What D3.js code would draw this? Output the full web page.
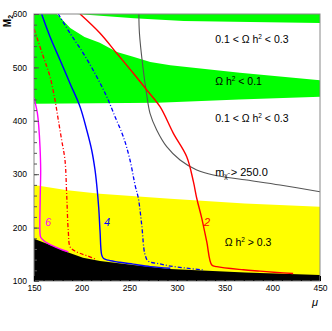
<!DOCTYPE html>
<html>
<head>
<meta charset="utf-8">
<script src="https://cdn.jsdelivr.net/npm/d3@7"></script>
<style>
  body { margin: 0; background: #fff; }
  svg { display: block; font-family: "Liberation Sans", Arial, sans-serif; }
</style>
</head>
<body>
<div id="chart"></div>
<script>
// constants
const margin = {top: 14, right: 12, bottom: 50, left: 34}
const width = 332 - margin.left - margin.right
const height = 331 - margin.top - margin.bottom

const mu_min = 150
const mu_max = 450
const m2_min = 100
const m2_max = 600

// axis ticks
const mu_ticks = [150, 200, 250, 300, 350, 400, 450]
const m2_ticks = [100, 200, 300, 400, 500, 600]

// region boundaries, [mu, M2]
const green_top_band_edge = [[195, 600], [255, 592], [307, 587], [377, 585], [450, 583]]
const green_band_top = [[174, 600], [188, 574], [203, 557], [219, 546], [237, 529], [254, 520],
                        [272, 510], [293, 504], [366, 490], [450, 476]]
const green_band_bottom = [[150, 432], [280, 434], [365, 440], [450, 445]]
const yellow_top = [[150, 280], [185, 270], [219, 263.5], [293, 254], [371, 245], [450, 239]]
const black_top = [[150, 179], [167, 167.5], [184.6, 154.3], [201.4, 143.6], [219.3, 137.5],
                   [254, 130], [292.7, 122.5], [371.4, 116], [450, 111.2]]

// contours
const curve_6 = [[150, 443], [153.5, 415], [155, 389], [156.3, 351], [157, 308], [156.5, 255],
                 [156.3, 190], [157, 182], [160, 176], [165, 170], [172, 164], [180, 158], [186, 154.5]]
const curve_red_dashdot = [[150, 572], [159.8, 520], [166.8, 482.6], [172, 439], [175.5, 401.5],
                           [179, 364], [182.5, 326.6], [184.3, 261], [186, 192], [187.8, 164],
                           [192, 157], [198, 152], [205.3, 147.5], [215.8, 140]]
const curve_4 = [[158, 600], [166.8, 557.5], [177.3, 514], [187.8, 470], [198.3, 426.4], [205.3, 382.8],
                 [210.5, 345.3], [214, 308], [215.8, 280], [217.9, 236.7], [219.3, 192.3], [221, 149],
                 [223, 142], [228, 139], [240, 135], [254, 131.5], [272, 127], [293, 124]]
const curve_blue_dashdot = [[175.5, 600], [187.8, 564], [201.7, 526.4], [215.8, 482.6], [226.3, 445.1],
                            [235, 407.7], [243.7, 370.2], [250.7, 326.6], [256, 279.8], [259.4, 255.4],
                            [263, 205], [266.5, 149], [270, 137], [282, 132], [293, 128], [310, 124], [328, 120.5]]
const curve_2 = [[198.3, 600], [219.3, 564], [236.8, 526.4], [254.2, 489], [268.3, 457.7], [282.2, 426.4],
                 [296.2, 376.6], [310.2, 332.8], [317.2, 286], [320.7, 255], [326, 217.4], [331.2, 173.6],
                 [336.5, 130], [341.7, 126.8], [369.6, 121], [387.1, 118.5], [404.7, 116], [421.8, 114]]
const curve_mass = [[260, 600], [260.6, 564], [264.2, 501.3], [268, 451.5], [271.7, 414], [278.7, 382.8],
                    [289.2, 351.5], [303.2, 326.6], [320.7, 307.9], [338.1, 298.5], [373.2, 289.1],
                    [408.1, 279.8], [450, 267.2]]

// annotations, [mu, M2]
const region_labels = [
    {mu: 340, m2: 553, text: ['0.1 <  Ω h', '2', ' < 0.3']},
    {mu: 340, m2: 474.5, text: ['Ω h', '2', ' < 0.1']},
    {mu: 340, m2: 405, text: ['0.1 <  Ω h', '2', ' < 0.3']},
    {mu: 350, m2: 173.6, text: ['Ω h', '2', ' > 0.3']}
]
const curve_labels = [
    {mu: 164.7, m2: 210.5, text: '6', color: '#ff00ff'},
    {mu: 226.6, m2: 210.5, text: '4', color: '#0000ff'},
    {mu: 331.5, m2: 210.5, text: '2', color: '#ff0000'}
]

const svg = d3.select('#chart')
    .append('svg')
        .attr('width', 332)
        .attr('height', 331)
    .append('g')
        .attr('transform', `translate(${margin.left}, ${margin.top})`)

const x = d3.scaleLinear().domain([mu_min, mu_max]).range([0, width])
const y = d3.scaleLinear().domain([m2_min, m2_max]).range([height, 0])

svg.append('clipPath')
    .attr('id', 'plot-clip')
    .append('rect')
        .attr('width', width)
        .attr('height', height)

const plot = svg.append('g').attr('clip-path', 'url(#plot-clip)')

const poly = d3.line().x(d => x(d[0])).y(d => y(d[1])).curve(d3.curveLinearClosed)
const smooth = d3.line().x(d => x(d[0])).y(d => y(d[1])).curve(d3.curveCatmullRom.alpha(0.5))

// green regions (Omega h^2 < 0.1)
plot.append('path')
    .attr('d', poly([[mu_max, m2_max], ...green_top_band_edge.slice().reverse()]))
    .attr('fill', '#00ff00')
plot.append('path')
    .attr('d', poly([[mu_min, m2_max], ...green_band_top, ...green_band_bottom.slice().reverse()]))
    .attr('fill', '#00ff00')

// yellow (Omega h^2 > 0.3)
plot.append('path')
    .attr('d', poly([[mu_min, m2_min], ...yellow_top, [mu_max, m2_min]]))
    .attr('fill', '#ffff00')

// excluded region
plot.append('path')
    .attr('d', poly([[mu_min, m2_min], ...black_top, [mu_max, m2_min]]))
    .attr('fill', '#000')

// contour lines
const lines = [
    {data: curve_mass, color: '#555', width: 1.1, dash: null},
    {data: curve_red_dashdot, color: '#ff0000', width: 1.3, dash: '4,2,1,2'},
    {data: curve_blue_dashdot, color: '#0000ff', width: 1.3, dash: '4,2,1,2'},
    {data: curve_6, color: '#ff00ff', width: 1.4, dash: null},
    {data: curve_4, color: '#0000ff', width: 1.4, dash: null},
    {data: curve_2, color: '#ff0000', width: 1.4, dash: null}
]
plot.selectAll('path.contour')
    .data(lines)
    .join('path')
        .attr('class', 'contour')
        .attr('d', d => smooth(d.data))
        .attr('fill', 'none')
        .attr('stroke', d => d.color)
        .attr('stroke-width', d => d.width)
        .attr('stroke-dasharray', d => d.dash)

// region texts
const rl = svg.selectAll('text.region')
    .data(region_labels)
    .join('text')
        .attr('class', 'region')
        .attr('x', d => x(d.mu))
        .attr('y', d => y(d.m2) + 4)
        .attr('font-size', '10.5px')
        .attr('fill', '#000')
rl.append('tspan').text(d => d.text[0])
rl.append('tspan').attr('font-size', '6.5px').attr('dy', -4).text(d => d.text[1])
rl.append('tspan').attr('dy', 4).text(d => d.text[2])

// mass limit label
const ml = svg.append('text')
    .attr('x', x(340))
    .attr('y', y(304.7) + 4)
    .attr('font-size', '11px')
ml.append('tspan').text('m')
ml.append('tspan').attr('font-size', '6.5px').attr('dy', 2).text('χ̃')
ml.append('tspan').attr('dy', -2).text(' > 250.0')

svg.selectAll('text.curve')
    .data(curve_labels)
    .join('text')
        .attr('class', 'curve')
        .attr('x', d => x(d.mu))
        .attr('y', d => y(d.m2) + 4)
        .attr('text-anchor', 'middle')
        .attr('font-size', '11px')
        .attr('font-style', 'italic')
        .attr('fill', d => d.color)
        .text(d => d.text)

// frame
svg.append('rect')
    .attr('width', width)
    .attr('height', height)
    .attr('fill', 'none')
    .attr('stroke', '#888')
    .attr('stroke-width', 1)

// axes, ticks inside
svg.append('g')
    .attr('transform', `translate(0, ${height})`)
    .call(d3.axisBottom(x).tickValues(d3.range(mu_min, mu_max + 1, 10)).tickSize(-3).tickFormat(''))
    .call(g => g.selectAll('.domain').remove())
    .call(g => g.selectAll('line').attr('stroke', '#000'))
svg.append('g')
    .attr('transform', `translate(0, ${height})`)
    .call(d3.axisBottom(x).tickValues(mu_ticks).tickSize(-5).tickPadding(4))
    .call(g => g.selectAll('.domain').remove())
    .call(g => g.selectAll('line').attr('stroke', '#000'))
    .call(g => g.selectAll('text').attr('font-size', '8.5px').attr('font-family', 'Liberation Sans'))

svg.append('g')
    .call(d3.axisLeft(y).tickValues(d3.range(m2_min, m2_max + 1, 20)).tickSize(-3).tickFormat(''))
    .call(g => g.selectAll('.domain').remove())
    .call(g => g.selectAll('line').attr('stroke', '#555'))
svg.append('g')
    .call(d3.axisLeft(y).tickValues(m2_ticks).tickSize(-5).tickPadding(7))
    .call(g => g.selectAll('.domain').remove())
    .call(g => g.selectAll('line').attr('stroke', '#555'))
    .call(g => g.selectAll('text').attr('font-size', '8.5px').attr('font-family', 'Liberation Sans'))

// axis titles
const yt = svg.append('text')
    .attr('transform', `translate(-23, 7) rotate(-90)`)
    .attr('font-size', '10px')
    .attr('font-weight', 'bold')
    .attr('text-anchor', 'middle')
yt.append('tspan').text('M')
yt.append('tspan').attr('font-size', '7px').attr('dy', 2).text('2')

svg.append('text')
    .attr('x', width - 5)
    .attr('y', height + 25)
    .attr('text-anchor', 'middle')
    .attr('font-size', '11px')
    .attr('font-style', 'italic')
    .text('μ')
</script>
</body>
</html>
